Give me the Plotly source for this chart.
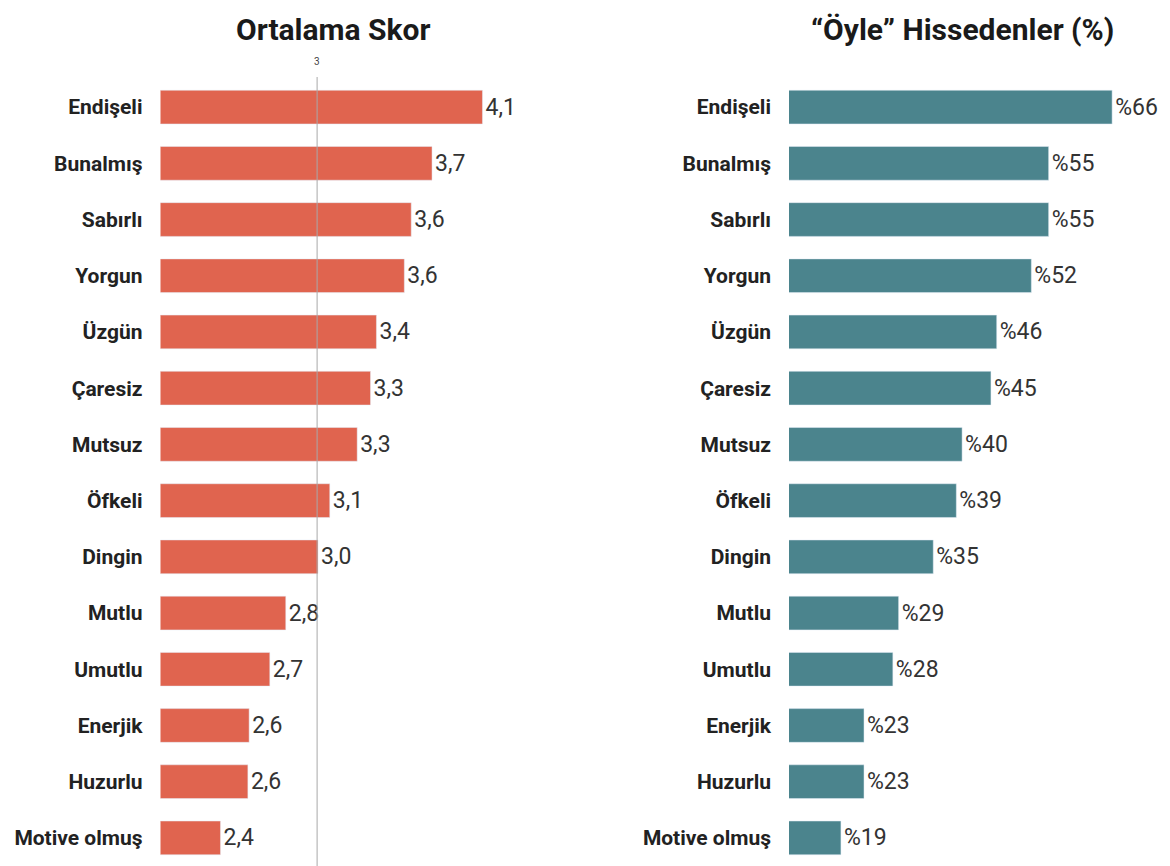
import plotly.graph_objects as go

categories = ["Endişeli", "Bunalmış", "Sabırlı", "Yorgun", "Üzgün", "Çaresiz", "Mutsuz",
              "Öfkeli", "Dingin", "Mutlu", "Umutlu", "Enerjik", "Huzurlu", "Motive olmuş"]
# average scores (labels show them rounded to one decimal)
avg_score = [4.056, 3.734, 3.601, 3.557, 3.379, 3.341, 3.256, 3.081, 3.006, 2.80, 2.698, 2.566, 2.558, 2.383]
avg_labels = ["4,1", "3,7", "3,6", "3,6", "3,4", "3,3", "3,3", "3,1", "3,0", "2,8", "2,7", "2,6", "2,6", "2,4"]
pct_feel = [66, 55, 55, 52, 46, 45, 40, 39, 35, 29, 28, 23, 23, 19]
pct_labels = ["%66", "%55", "%55", "%52", "%46", "%45", "%40", "%39", "%35", "%29", "%28", "%23", "%23", "%19"]
ref_value = 3

W, H = 1170, 866
FONT = "Roboto"
CORAL = "#E0644F"
TEAL = "#4B848D"

fig = go.Figure()
fig.add_trace(go.Bar(
    y=categories, x=avg_score, orientation="h", marker_color=CORAL, width=0.6,
    text=avg_labels, textposition="outside",
    textfont=dict(family=FONT, size=23, color="#333333"), cliponaxis=False,
    xaxis="x", yaxis="y", showlegend=False))
fig.add_trace(go.Bar(
    y=categories, x=pct_feel, orientation="h", marker_color=TEAL, width=0.6,
    text=pct_labels, textposition="outside",
    textfont=dict(family=FONT, size=23, color="#333333"), cliponaxis=False,
    xaxis="x2", yaxis="y2", showlegend=False))

ytop = (H - 79) / H
common_y = dict(type="category", categoryorder="array", categoryarray=categories,
                range=[13.5, -0.5], showgrid=False, zeroline=False, showline=False,
                ticks="", ticklabelstandoff=17,
                tickfont=dict(family=FONT, size=21, color="#222222", weight="bold"))
fig.update_layout(
    width=W, height=H, margin=dict(l=0, r=0, t=0, b=0),
    paper_bgcolor="white", plot_bgcolor="white",
    bargap=0.4,
    xaxis=dict(domain=[160.5 / W, 545 / W], range=[2, 2 + (545 - 160.5) / 156.6], visible=False),
    xaxis2=dict(domain=[789 / W, 1150 / W], range=[10, 10 + 361 / 5.77], visible=False),
    yaxis=dict(domain=[0, ytop], anchor="x", **common_y),
    yaxis2=dict(domain=[0, ytop], anchor="x2", **common_y),
)

fig.add_shape(type="line", xref="x", yref="paper", x0=ref_value, x1=ref_value,
              y0=0, y1=(H - 77) / H, line=dict(color="#A8A8A8", width=1), layer="above")
fig.add_annotation(x=ref_value, xref="x", y=(H - 62) / H, yref="paper", text=str(ref_value),
                   showarrow=False, xanchor="center", yanchor="middle",
                   font=dict(family=FONT, size=10, color="#444444"))

fig.add_annotation(x=333 / W, xref="paper", y=(H - 30) / H, yref="paper", text="<b>Ortalama Skor</b>",
                   showarrow=False, xanchor="center", yanchor="middle",
                   font=dict(family=FONT, size=30, color="#1a1a1a"))
fig.add_annotation(x=962 / W, xref="paper", y=(H - 30) / H, yref="paper",
                   text="<b>“Öyle” Hissedenler (%)</b>",
                   showarrow=False, xanchor="center", yanchor="middle",
                   font=dict(family=FONT, size=30, color="#1a1a1a"))

fig.write_html("out.html")
